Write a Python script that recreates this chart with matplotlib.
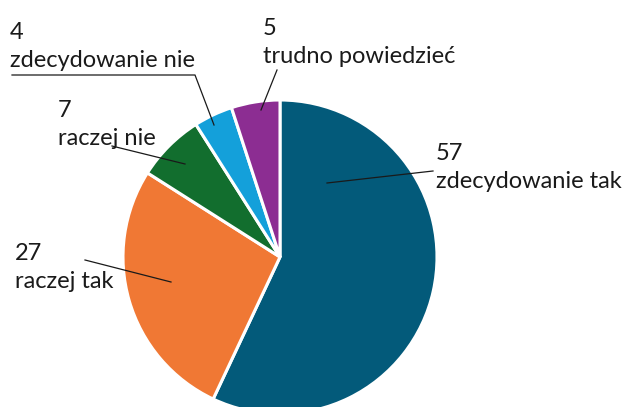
import matplotlib.pyplot as plt

labels = ['zdecydowanie tak', 'raczej tak', 'raczej nie', 'zdecydowanie nie', 'trudno powiedzieć']
values = [57, 27, 7, 4, 5]
colors = ['#035a7a', '#f07834', '#126e2e', '#14a0da', '#8c2d92']

# label layout in pixel coords (x, y from top), leader line points
H = 407
text_pos = [(436, 143), (15, 243), (58, 100), (10, 22), (263, 18)]
leaders = [
    [(433, 171), (327, 183)],
    [(85, 260), (171, 282)],
    [(112, 146), (185, 164)],
    [(12, 75), (195, 75), (214, 125)],
    [(277, 70), (261, 110)],
]

plt.rcParams['font.family'] = ['Lato', 'DejaVu Sans']

fig = plt.figure(figsize=(6.27, 4.07), dpi=100)
ax = fig.add_axes([0, 0, 1, 1])

ax.pie(values, colors=colors, startangle=90, counterclock=False,
       center=(280, H - 257), radius=157, frame=True,
       wedgeprops=dict(edgecolor='white', linewidth=2.2))
ax.set_xlim(0, 627)
ax.set_ylim(0, H)
ax.set_aspect('equal')
ax.axis('off')

for lab, v, (tx, ty), pts in zip(labels, values, text_pos, leaders):
    ax.text(tx, H - ty, f'{v}\n{lab}', fontsize=17, color='#1a1a1a',
            ha='left', va='top', linespacing=1.42)
    xs = [p[0] for p in pts]
    ys = [H - p[1] for p in pts]
    ax.plot(xs, ys, color='#1a1a1a', lw=0.9)

fig.savefig('out.png', dpi=100)
